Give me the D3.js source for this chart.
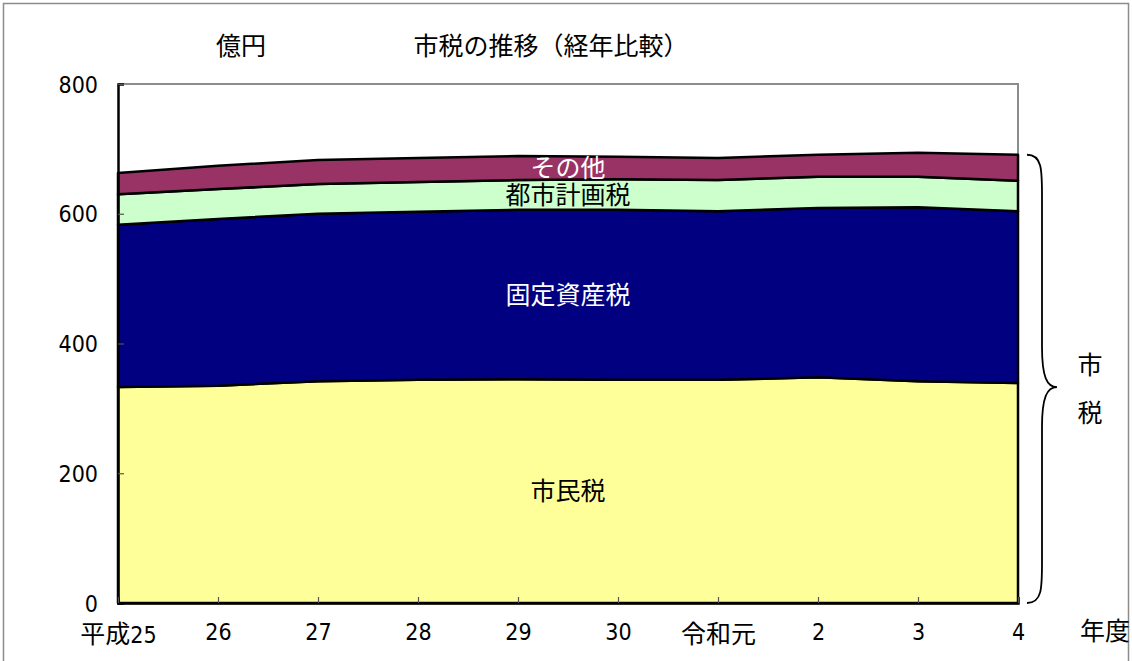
<!DOCTYPE html>
<html lang="ja">
<head>
<meta charset="utf-8">
<script src="https://cdn.jsdelivr.net/npm/d3@7"></script>
<style>
  html, body { margin: 0; padding: 0; background: #fff; }
  svg { display: block; }
  .cjk { font-family: "Noto Sans CJK JP", "Noto Sans", sans-serif; }
  .num { font-family: "Liberation Sans Narrow", "DejaVu Sans Condensed", "Noto Sans CJK JP", sans-serif; }
</style>
</head>
<body>
<svg id="chart" width="1132" height="661"></svg>
<script>
// 年度
const years = ["平成25", "26", "27", "28", "29", "30", "令和元", "2", "3", "4"];

// 税目別の額（億円）
const shiminzei       = [333, 335, 342, 344, 345, 344, 344, 348, 342, 339];
const koteishisanzei  = [250, 257, 258, 259, 261, 262, 260, 261, 268, 265];
const toshikeikakuzei = [47, 46, 46, 46, 46, 47, 48, 48, 47, 47];
const sonota          = [33, 36, 37, 37, 37, 35, 34, 34, 37, 40];

const seriesNames = ["市民税", "固定資産税", "都市計画税", "その他"];
const yTicks = [0, 200, 400, 600, 800];

const colors = {
  "市民税": "#FFFF99",
  "固定資産税": "#000080",
  "都市計画税": "#CCFFCC",
  "その他": "#993366"
};
const labelColors = {
  "市民税": "#000",
  "固定資産税": "#fff",
  "都市計画税": "#000",
  "その他": "#fff"
};

const rows = years.map((yr, i) => ({
  year: yr,
  "市民税": shiminzei[i],
  "固定資産税": koteishisanzei[i],
  "都市計画税": toshikeikakuzei[i],
  "その他": sonota[i]
}));

const svg = d3.select("#chart");
const plotLeft = 118, plotRight = 1018, plotTop = 84, plotBottom = 603;
const cjkSize = 25, numSize = 23;

const x = d3.scalePoint().domain(years).range([plotLeft, plotRight]);
const y = d3.scaleLinear().domain([0, 800]).range([plotBottom, plotTop]);

// outer frame
svg.append("rect")
  .attr("x", 3.5).attr("y", 3.5)
  .attr("width", 1125).attr("height", 700)
  .attr("fill", "none").attr("stroke", "#8c8c8c").attr("stroke-width", 1.5);

// plot border (top and right)
svg.append("path")
  .attr("d", `M${plotLeft},${plotTop}H${plotRight}V${plotBottom}`)
  .attr("fill", "none").attr("stroke", "#8c8c8c").attr("stroke-width", 2);

const layers = d3.stack().keys(seriesNames)(rows);

const area = d3.area()
  .x(d => x(d.data.year))
  .y0(d => y(d[0]))
  .y1(d => y(d[1]));

svg.append("g").selectAll("path")
  .data(layers)
  .join("path")
  .attr("d", area)
  .attr("fill", d => colors[d.key])
  .attr("stroke", "#000")
  .attr("stroke-width", 2.5)
  .attr("stroke-linejoin", "round");

// axes
const yAxis = d3.axisLeft(y).tickValues(yTicks).tickSize(-6).tickPadding(20).tickFormat(d3.format("d"));
const gy = svg.append("g").attr("transform", `translate(${plotLeft},0)`).call(yAxis);
gy.select(".domain").attr("stroke", "#000").attr("stroke-width", 2.5);
gy.selectAll(".tick line").attr("stroke", "#555").attr("stroke-width", 1.2);
gy.selectAll(".tick text")
  .attr("class", "num").attr("font-size", numSize).attr("fill", "#000")
  .attr("dy", "0.35em");

const xAxis = d3.axisBottom(x).tickSize(-6).tickPadding(20);
const gx = svg.append("g").attr("transform", `translate(0,${plotBottom})`).call(xAxis);
gx.select(".domain").attr("stroke", "#000").attr("stroke-width", 2.5);
gx.selectAll(".tick line").attr("stroke", "#555").attr("stroke-width", 1.2);
// era names in the CJK face, year numbers in the narrow face
gx.selectAll(".tick text")
  .attr("y", 0)
  .attr("dy", d => /[^0-9]/.test(d) ? 40 : 37)
  .attr("fill", "#000")
  .text(null)
  .each(function(d) {
    const t = d3.select(this);
    const m = d.match(/^([^0-9]*)([0-9]*)$/);
    if (m[1]) t.append("tspan").attr("class", "cjk").attr("font-size", cjkSize).text(m[1]);
    if (m[2]) t.append("tspan").attr("class", "num").attr("font-size", numSize).text(m[2]);
  });

// series labels, centred in each band between 29 and 30
const midX = (x(years[4]) + x(years[5])) / 2;
layers.forEach(layer => {
  const a = layer[4], b = layer[5];
  const mid = ((a[0] + a[1]) / 2 + (b[0] + b[1]) / 2) / 2;
  svg.append("text")
    .attr("class", "cjk")
    .attr("x", midX).attr("y", y(mid))
    .attr("dy", "0.36em")
    .attr("text-anchor", "middle")
    .attr("font-size", cjkSize)
    .attr("fill", labelColors[layer.key])
    .text(layer.key);
});

// title and unit
function note(txt, cx, cy) {
  svg.append("text").attr("class", "cjk")
    .attr("x", cx).attr("y", cy).attr("dy", "0.36em")
    .attr("text-anchor", "middle").attr("font-size", cjkSize).attr("fill", "#000")
    .text(txt);
}
note("市税の推移（経年比較）", 551, 46);
note("億円", 241, 46);
note("年度", 1105, 631);

// brace spanning all 市税 bands at the last year
const braceTop = y(d3.max(layers[layers.length - 1], d => d[1])) + 2;
const braceBot = y(0);
const braceMid = y(shiminzei[shiminzei.length - 1]) + 4;
const bx0 = 1027, bx1 = 1042, bx2 = 1057;
svg.append("path")
  .attr("d", [
    `M${bx0},${braceTop}`,
    `C${bx1},${braceTop} ${bx1},${braceTop + 15} ${bx1},${braceTop + 40}`,
    `L${bx1},${braceMid - 40}`,
    `C${bx1},${braceMid - 10} ${bx1 + 5},${braceMid} ${bx2},${braceMid}`,
    `C${bx1 + 5},${braceMid} ${bx1},${braceMid + 10} ${bx1},${braceMid + 40}`,
    `L${bx1},${braceBot - 40}`,
    `C${bx1},${braceBot - 15} ${bx1},${braceBot} ${bx0},${braceBot}`
  ].join(" "))
  .attr("fill", "none").attr("stroke", "#000").attr("stroke-width", 1.8);

note("市", 1090, 365);
note("税", 1090, 413);
</script>
</body>
</html>
